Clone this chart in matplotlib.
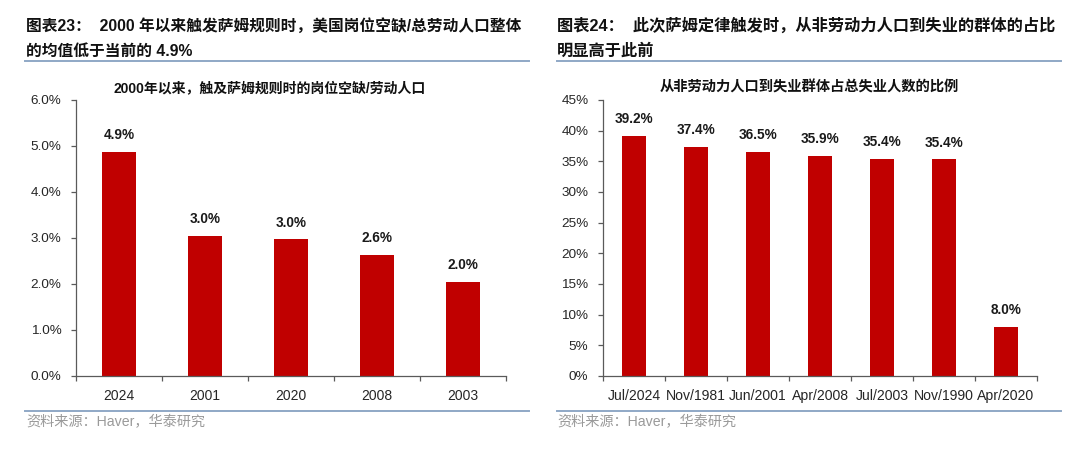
import matplotlib
matplotlib.use("Agg")
import matplotlib.pyplot as plt
from matplotlib.ticker import FixedLocator, FuncFormatter
from matplotlib.lines import Line2D

plt.rcParams['font.family'] = ['Liberation Sans', 'Noto Sans CJK SC', 'DejaVu Sans']

# ---- data ----
left_categories = ["2024", "2001", "2020", "2008", "2003"]
left_values = [4.88, 3.04, 2.97, 2.63, 2.04]
left_labels = ["4.9%", "3.0%", "3.0%", "2.6%", "2.0%"]

right_categories = ["Jul/2024", "Nov/1981", "Jun/2001", "Apr/2008", "Jul/2003", "Nov/1990", "Apr/2020"]
right_values = [39.2, 37.4, 36.5, 35.9, 35.4, 35.3, 8.0]
right_labels = ["39.2%", "37.4%", "36.5%", "35.9%", "35.4%", "35.4%", "8.0%"]

left_title_1 = "图表23：  2000 年以来触发萨姆规则时，美国岗位空缺/总劳动人口整体"
left_title_2 = "的均值低于当前的 4.9%"
left_subtitle = "2000年以来，触及萨姆规则时的岗位空缺/劳动人口"
right_title_1 = "图表24：  此次萨姆定律触发时，从非劳动力人口到失业的群体的占比"
right_title_2 = "明显高于此前"
right_subtitle = "从非劳动力人口到失业群体占总失业人数的比例"
source_text = "资料来源：Haver，华泰研究"

W, H = 1080, 451
BAR = "#C00000"
LINE_BLUE = "#8FA8C6"
AXIS = "#5a5a5a"
TXT = "#262626"

fig = plt.figure(figsize=(W / 100, H / 100), dpi=100)


def fx(px):
    return px / W


def fy(py):
    return 1 - py / H


def make_axes(x0, x1, cats, vals, labels, ymax, ystep, fmt, xlabel_size):
    ax = fig.add_axes([fx(x0), fy(376), fx(x1) - fx(x0), fy(100) - fy(376)])
    n = len(cats)
    x = list(range(n))
    ax.bar(x, vals, width=0.4, color=BAR, zorder=2)
    for xi, v, lab in zip(x, vals, labels):
        ax.annotate(lab, (xi, v), xytext=(0, 12), textcoords="offset points",
                    ha="center", va="center", fontsize=9.8, fontweight="bold", color="#1a1a1a")
    ax.set_xlim(-0.5, n - 0.5)
    ax.set_ylim(0, ymax)
    yt = [i * ystep for i in range(int(round(ymax / ystep)) + 1)]
    ax.yaxis.set_major_locator(FixedLocator(yt))
    ax.yaxis.set_major_formatter(FuncFormatter(fmt))
    ax.set_xticks(x)
    ax.set_xticklabels(cats)
    ax.xaxis.set_minor_locator(FixedLocator([i - 0.5 for i in range(n + 1)]))
    ax.tick_params(axis="x", which="major", length=0, pad=9.5, labelsize=xlabel_size, labelcolor=TXT)
    ax.tick_params(axis="x", which="minor", length=3.5, width=0.9, color=AXIS, direction="out")
    ax.tick_params(axis="y", which="major", length=3.5, width=0.9, color=AXIS, direction="out",
                   labelsize=9.7, labelcolor=TXT, pad=7)
    for s in ("top", "right"):
        ax.spines[s].set_visible(False)
    for s in ("left", "bottom"):
        ax.spines[s].set_color(AXIS)
        ax.spines[s].set_linewidth(0.9)
    return ax


make_axes(76, 506, left_categories, left_values, left_labels, 6.0, 1.0,
          lambda v, p: f"{v:.1f}%", 10)
make_axes(603, 1037, right_categories, right_values, right_labels, 45, 5,
          lambda v, p: f"{v:.0f}%", 10.1)

# titles
fig.text(fx(26), fy(26), left_title_1, fontsize=11.3, fontweight="bold", color="#111111", va="center", ha="left")
fig.text(fx(26), fy(51), left_title_2, fontsize=11.3, fontweight="bold", color="#111111", va="center", ha="left")
fig.text(fx(557), fy(26), right_title_1, fontsize=11.7, fontweight="bold", color="#111111", va="center", ha="left")
fig.text(fx(557), fy(51), right_title_2, fontsize=11.7, fontweight="bold", color="#111111", va="center", ha="left")

# subtitles
fig.text(fx(270), fy(88), left_subtitle, fontsize=10, fontweight="bold", color="#111111", va="center", ha="center")
fig.text(fx(809), fy(88), right_subtitle, fontsize=10.3, fontweight="bold", color="#111111", va="center", ha="center")

# separator lines
for (a, b) in [(25, 529), (557, 1061)]:
    fig.add_artist(Line2D([fx(a), fx(b)], [fy(61), fy(61)], color=LINE_BLUE, lw=1.4))
    fig.add_artist(Line2D([fx(a), fx(b)], [fy(411), fy(411)], color=LINE_BLUE, lw=1.4))

# sources
fig.text(fx(26), fy(422), source_text, fontsize=10.2, color="#9a9a9a", va="center", ha="left")
fig.text(fx(557), fy(422), source_text, fontsize=10.2, color="#9a9a9a", va="center", ha="left")

fig.savefig("out.png", dpi=100)
